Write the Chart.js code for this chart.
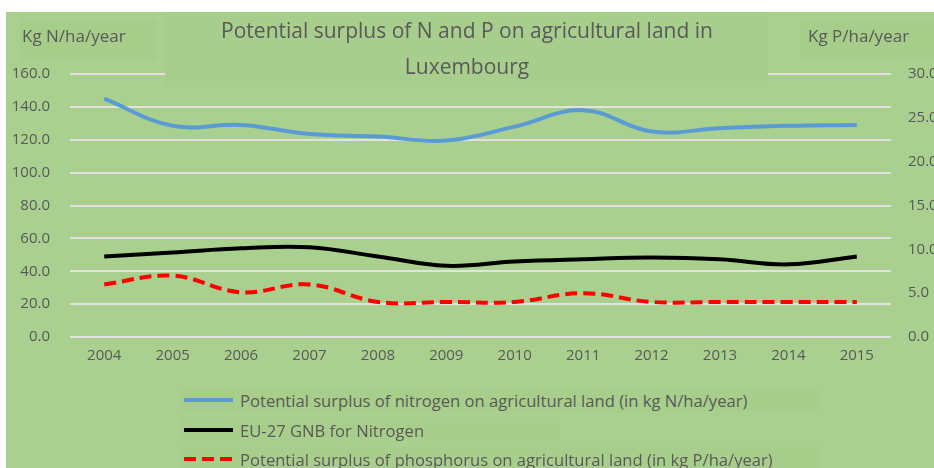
<!DOCTYPE html>
<html>
<head>
<meta charset="utf-8">
<script src="https://cdn.jsdelivr.net/npm/chart.js@4.4.1/dist/chart.umd.min.js"></script>
<style>
  html, body { margin:0; padding:0; background:#ffffff; overflow:hidden; }
  #wrap { position:relative; width:934px; height:468px; }
  #c { position:absolute; left:0; top:0; }
  #legend { position:absolute; left:0; top:0; width:934px; height:468px; pointer-events:none;
            font-family:"Open Sans", sans-serif; font-size:16.6px; color:#595959; }
  .item { position:absolute; left:184px; height:24px; display:flex; align-items:center; white-space:nowrap; }
  .sample { width:49px; height:4px; margin-right:7px; flex:none; }
  .lbox { position:absolute; background:#a8ce8c; }
</style>
</head>
<body>
<div id="wrap">
  <canvas id="c" width="934" height="468"></canvas>
  <div id="legend"></div>
</div>
<script>
const years = ["2004","2005","2006","2007","2008","2009","2010","2011","2012","2013","2014","2015"];
const nSurplus = [145, 128.5, 129, 123.5, 122, 119.5, 128, 138, 125, 127, 128.5, 129];
const gnbNitrogen = [49, 51.4, 54, 54.6, 49, 43.3, 45.9, 47.3, 48.3, 47.3, 44.2, 49];
const pSurplus = [6.0, 7.0, 5.1, 6.0, 4.0, 4.0, 4.0, 5.0, 4.0, 4.0, 4.0, 4.0];
const titleLines = ["Potential surplus of N and P on agricultural land in", "Luxembourg"];
const leftTitle = "Kg N/ha/year";
const rightTitle = "Kg P/ha/year";
const seriesLabels = [
  "Potential surplus of nitrogen on agricultural land (in kg N/ha/year)",
  "EU-27 GNB for Nitrogen",
  "Potential surplus of phosphorus on agricultural land (in kg P/ha/year)"
];

const GREEN = "#a9d08e";
const BOX = "#a7ce8c";
const TXT = "#595959";
const FONT = "'Open Sans', sans-serif";

const decor = {
  id: "decor",
  beforeDraw(chart) {
    const ctx = chart.ctx;
    ctx.save();
    ctx.fillStyle = "#ffffff";
    ctx.fillRect(0, 0, chart.width, chart.height);
    ctx.fillStyle = GREEN;
    ctx.fillRect(6, 12, chart.width - 6, chart.height - 12);
    ctx.restore();
  },
  beforeDatasetsDraw(chart) {
    const ctx = chart.ctx;
    ctx.save();
    ctx.fillStyle = BOX;
    ctx.fillRect(165, 12, 603, 74);
    ctx.fillStyle = "#a7cd8b";
    ctx.fillRect(20, 20, 137, 40);
    ctx.fillRect(800, 20, 134, 40);
    ctx.fillStyle = TXT;
    ctx.textAlign = "center";
    ctx.textBaseline = "middle";
    ctx.font = "21px " + FONT;
    ctx.fillText(titleLines[0], 467, 32);
    ctx.fillText(titleLines[1], 467, 68);
    ctx.font = "17px " + FONT;
    ctx.textAlign = "left";
    ctx.fillText(leftTitle, 22, 37);
    ctx.fillText(rightTitle, 808, 37);
    ctx.restore();
  }
};

const chart = new Chart(document.getElementById("c"), {
  type: "line",
  data: {
    labels: years,
    datasets: [
      { label: seriesLabels[0], data: nSurplus, yAxisID: "yL", borderColor: "#5b9bd5",
        borderWidth: 4, pointRadius: 0, tension: 0.4, fill: false },
      { label: seriesLabels[1], data: gnbNitrogen, yAxisID: "yL", borderColor: "#000000",
        borderWidth: 4, pointRadius: 0, tension: 0.4, fill: false },
      { label: seriesLabels[2], data: pSurplus, yAxisID: "yR", borderColor: "#ff0000",
        borderWidth: 4, borderDash: [12, 6], pointRadius: 0, tension: 0.4, fill: false }
    ]
  },
  options: {
    responsive: false,
    animation: false,
    events: [],
    layout: { padding: { top: 74, bottom: 101, left: 0, right: 0 } },
    plugins: { legend: { display: false }, tooltip: { enabled: false }, title: { display: false } },
    scales: {
      x: {
        offset: true,
        grid: { display: false, drawTicks: false },
        border: { display: false },
        ticks: { color: TXT, font: { family: FONT, size: 15 }, padding: 10, maxRotation: 0, autoSkip: false },
        afterFit(s) { s.height = 30; }
      },
      yL: {
        position: "left",
        min: 0, max: 160,
        grid: { color: "#e2e2e2", lineWidth: 2, drawTicks: false },
        border: { display: false },
        ticks: { stepSize: 20, color: TXT, font: { family: FONT, size: 15 }, padding: 20,
                 callback: v => Number(v).toFixed(1) },
        afterFit(s) { s.width = 70; }
      },
      yR: {
        position: "right",
        min: 0, max: 30,
        grid: { display: false, drawTicks: false },
        border: { display: false },
        ticks: { stepSize: 5, color: TXT, font: { family: FONT, size: 15 }, padding: 17,
                 callback: v => Number(v).toFixed(1) },
        afterFit(s) { s.width = 43; }
      }
    }
  },
  plugins: [decor]
});

const legend = document.getElementById("legend");
const rowsY = [400, 430, 459];
const boxes = [[180, 388, 640, 24], [180, 418, 380, 24], [180, 447, 640, 24]];
boxes.forEach(b => {
  const d = document.createElement("div");
  d.className = "lbox";
  d.style.left = b[0] + "px"; d.style.top = b[1] + "px";
  d.style.width = b[2] + "px"; d.style.height = b[3] + "px";
  legend.appendChild(d);
});
chart.data.datasets.forEach((ds, i) => {
  const item = document.createElement("div");
  item.className = "item";
  item.style.top = (rowsY[i] - 12) + "px";
  const s = document.createElement("div");
  s.className = "sample";
  if (ds.borderDash) {
    s.style.background = `repeating-linear-gradient(90deg, ${ds.borderColor} 0 12px, transparent 12px 18px)`;
  } else {
    s.style.background = ds.borderColor;
  }
  const t = document.createElement("span");
  t.textContent = ds.label;
  item.appendChild(s);
  item.appendChild(t);
  legend.appendChild(item);
});
</script>
</body>
</html>
